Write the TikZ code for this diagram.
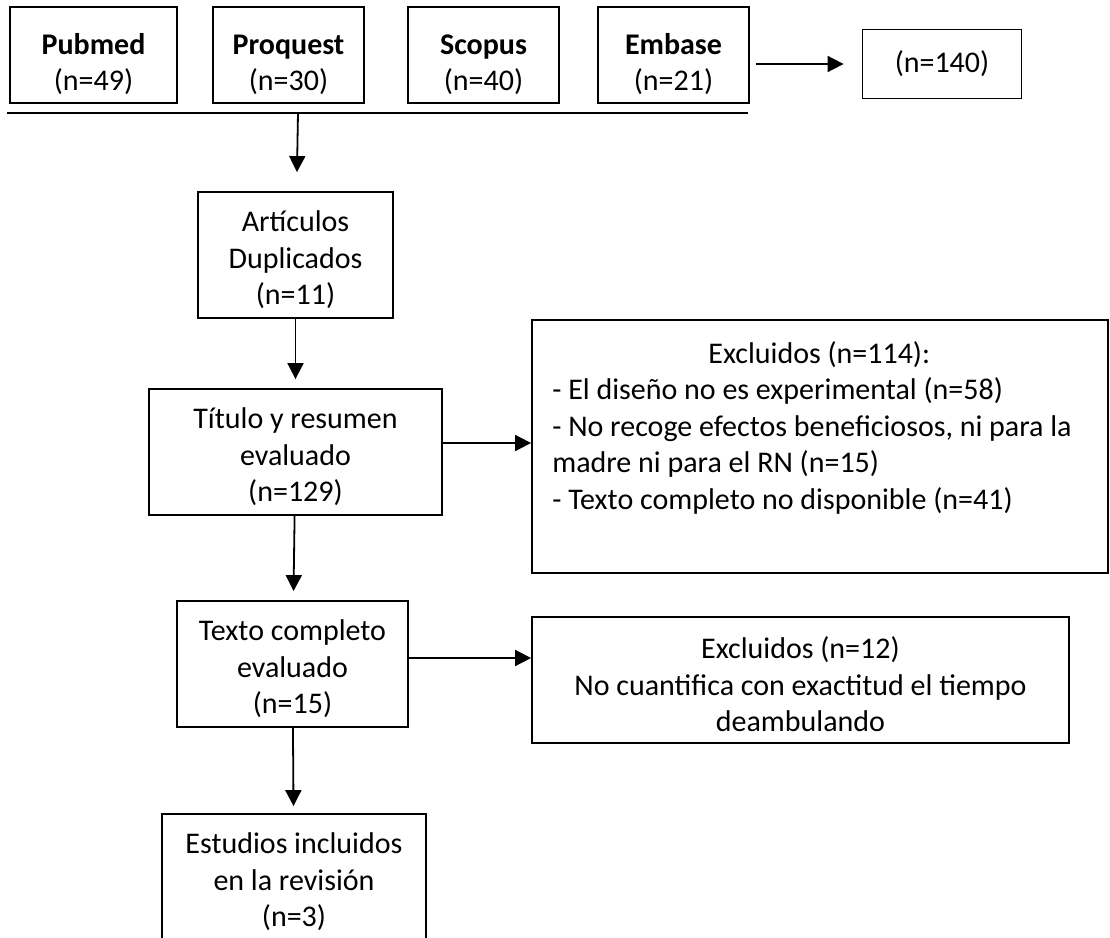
\documentclass[tikz,border=0pt]{standalone}
\usepackage{fontspec}
\setmainfont{Carlito}
\usetikzlibrary{positioning,arrows.meta}

\begin{document}
\begin{tikzpicture}[x=1pt, y=-1pt,
    every node/.style={align=center, font=\fontsize{30}{36.5}\selectfont},
    frame/.style={draw, line width=1.8pt, inner sep=0pt},
    box/.style={frame, minimum height=126pt,
                execute at begin node={\rule{0pt}{104pt}}},
    dbbox/.style={frame, minimum height=96pt,
                  execute at begin node={\rule{0pt}{76pt}}},
    arr/.style={-{Triangle[length=16pt,width=16pt]}, line width=1.8pt}]
  \clip (0,0) rectangle (1110,937);
  % databases
  \node[dbbox, minimum width=167pt] (pubmed)   at (93.5,55)  {\textbf{Pubmed}\\(n=49)};
  \node[dbbox, minimum width=151pt] (proquest) at (288.5,55) {\textbf{Proquest}\\(n=30)};
  \node[dbbox, minimum width=151pt] (scopus)   at (483.5,55) {\textbf{Scopus}\\(n=40)};
  \node[dbbox, minimum width=151pt] (embase)   at (673.5,55) {\textbf{Embase}\\(n=21)};
  \node[frame, minimum width=159pt, minimum height=69pt] (total) at (942,64) {(n=140)};
  \coordinate (barL) at (7,113);
  \coordinate (barR) at (748,113);
  \coordinate (barM) at (298,113);
  \draw[line width=2.4pt] (barL) -- (barR);
  % screening
  \node[box, minimum width=195pt] (dup)      at (295.5,255) {Artículos\\Duplicados\\(n=11)};
  \node[box, minimum width=293pt] (title)    at (295.5,452) {Título y resumen\\evaluado\\(n=129)};
  \node[box, minimum width=231pt] (fulltext) at (292.5,664) {Texto completo\\evaluado\\(n=15)};
  \node[box, minimum width=264pt] (incl)     at (294,877)   {Estudios incluidos\\en la revisión\\(n=3)};
  % exclusions
  \node[frame, minimum width=576pt, minimum height=253pt] (excl1) at (820,446.5) {};
  \node[anchor=north west, align=left, inner sep=0pt] (excl1txt)
    at ([xshift=21pt,yshift=-22pt]excl1.north west)
    {\makebox[534pt][c]{Excluidos (n=114):}\\
     - El diseño no es experimental (n=58)\\
     - No recoge efectos beneficiosos, ni para la\\
     madre ni para el RN (n=15)\\
     - Texto completo no disponible (n=41)};
  \node[box, minimum width=537pt] (excl2) at (800.5,680)
    {Excluidos (n=12)\\No cuantifica con exactitud el tiempo\\deambulando};
  % arrows
  \draw[arr, shorten <=6pt, shorten >=18pt] (embase.east |- total.west) -- (total.west);
  \draw[arr, shorten >=19pt] (barM) -- (dup);
  \draw[arr, shorten >=9pt] (dup) -- (title);
  \draw[arr] ([yshift=9pt]title.east) -- ([yshift=9pt]title.east -| excl1.west);
  \draw[arr, shorten >=9pt] (title) -- (fulltext);
  \draw[arr] ([yshift=6pt]fulltext.east) -- ([yshift=6pt]fulltext.east -| excl2.west);
  \draw[arr, shorten >=7pt] (fulltext) -- (incl);
\end{tikzpicture}
\end{document}
